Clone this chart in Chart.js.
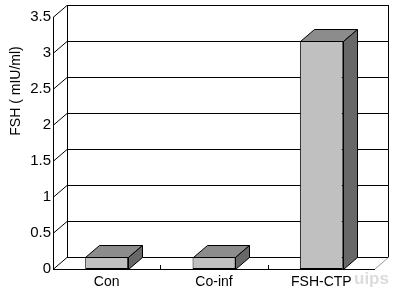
<!DOCTYPE html>
<html>
<head>
<meta charset="UTF-8">
<script src="https://cdn.jsdelivr.net/npm/chart.js"></script>
<style>
  html, body { margin: 0; padding: 0; background: #fff; }
  #wrap { width: 396px; height: 291px; }
</style>
</head>
<body>
<div id="wrap"><canvas id="myChart"></canvas></div>
<script>
const categories = ['Con', 'Co-inf', 'FSH-CTP'];
const fshValues = [0.17, 0.17, 3.17];
const yTicks = [0, 0.5, 1, 1.5, 2, 2.5, 3, 3.5];
const yTitle = 'FSH ( mIU/ml)';

// depth of the 3d box
const DX = 14, DY = -12;

const threeD = {
  id: 'threeD',
  beforeDatasetsDraw(chart) {
    const c = chart.ctx, a = chart.chartArea;
    const y = chart.scales.y;
    c.save();
    c.lineWidth = 1;
    c.strokeStyle = '#000';
    // back wall gridlines + connectors on the side wall
    yTicks.forEach(v => {
      const py = Math.round(y.getPixelForValue(v)) + 0.5;
      c.beginPath();
      c.moveTo(a.left + DX, py + DY);
      c.lineTo(a.right + DX, py + DY);
      c.stroke();
      c.beginPath();
      c.moveTo(a.left, py);
      c.lineTo(a.left + DX, py + DY);
      c.stroke();
    });
    // back wall edges
    c.beginPath();
    c.moveTo(a.left + DX + 0.5, a.top + DY);
    c.lineTo(a.left + DX + 0.5, a.bottom + DY);
    c.moveTo(a.right + DX - 0.5, a.top + DY);
    c.lineTo(a.right + DX - 0.5, a.bottom + DY);
    c.stroke();
    // floor right edge
    c.strokeStyle = '#999';
    c.beginPath();
    c.moveTo(a.right, a.bottom);
    c.lineTo(a.right + DX, a.bottom + DY);
    c.stroke();
    // front axis lines
    c.strokeStyle = '#000';
    c.beginPath();
    c.moveTo(a.left + 0.5, a.top);
    c.lineTo(a.left + 0.5, a.bottom);
    c.moveTo(a.left, a.bottom + 0.5);
    c.lineTo(a.right, a.bottom + 0.5);
    c.stroke();
    // category separators on the floor
    const xs = chart.scales.x;
    for (let i = 1; i < categories.length; i++) {
      const px = Math.round((xs.getPixelForValue(i - 1) + xs.getPixelForValue(i)) / 2) + 0.5;
      c.beginPath();
      c.moveTo(px, a.bottom);
      c.lineTo(px, a.bottom - 4);
      c.stroke();
    }
    // y axis title
    c.fillStyle = '#000';
    c.font = '14px "Liberation Sans", Arial, sans-serif';
    c.textAlign = 'center';
    c.textBaseline = 'middle';
    c.translate(16, 91);
    c.rotate(-Math.PI / 2);
    c.fillText(yTitle, 0, 0);
    c.restore();
  },
  afterDatasetsDraw(chart) {
    const c = chart.ctx;
    const meta = chart.getDatasetMeta(0);
    c.save();
    c.lineWidth = 1;
    c.strokeStyle = '#000';
    c.lineJoin = 'round';
    meta.data.forEach(bar => {
      const x1 = Math.round(bar.x - bar.width / 2) + 0.5;
      const x2 = Math.round(bar.x + bar.width / 2) + 0.5;
      const yt = Math.round(bar.y) + 0.5;
      const yb = Math.round(bar.base) + 0.5;
      // top face
      c.fillStyle = '#8c8c8c';
      c.beginPath();
      c.moveTo(x1, yt);
      c.lineTo(x1 + DX, yt + DY);
      c.lineTo(x2 + DX, yt + DY);
      c.lineTo(x2, yt);
      c.closePath();
      c.fill();
      c.stroke();
      // side face
      c.fillStyle = '#686868';
      c.beginPath();
      c.moveTo(x2, yt);
      c.lineTo(x2 + DX, yt + DY);
      c.lineTo(x2 + DX, yb + DY);
      c.lineTo(x2, yb);
      c.closePath();
      c.fill();
      c.stroke();
    });
    // faint watermark
    c.fillStyle = '#dcdcdc';
    c.font = 'bold 17px "Liberation Sans", Arial, sans-serif';
    c.textAlign = 'left';
    c.textBaseline = 'middle';
    c.fillText('uips', 354, 279);
    c.restore();
  }
};

new Chart(document.getElementById('myChart'), {
  type: 'bar',
  data: {
    labels: categories,
    datasets: [{
      data: fshValues,
      backgroundColor: '#c0c0c0',
      borderColor: '#000',
      borderWidth: 1,
      borderSkipped: false,
      barPercentage: 0.4,
      categoryPercentage: 1
    }]
  },
  options: {
    responsive: true,
    maintainAspectRatio: false,
    animation: false,
    layout: { padding: { top: 17, right: 21, left: 0, bottom: 0 } },
    plugins: { legend: { display: false }, tooltip: { enabled: false } },
    scales: {
      x: {
        grid: { display: false, drawTicks: false },
        border: { display: false },
        ticks: { color: '#000', padding: 5, font: { family: '"Liberation Sans", Arial, sans-serif', size: 14 } },
        afterFit(s) { s.height = 22; }
      },
      y: {
        min: 0, max: 3.5,
        grid: { display: false, drawTicks: false },
        border: { display: false },
        ticks: {
          stepSize: 0.5, color: '#000', padding: 2,
          font: { family: '"Liberation Sans", Arial, sans-serif', size: 15 },
          callback: v => String(v)
        },
        afterFit(s) { s.width = 53; }
      }
    }
  },
  plugins: [threeD]
});
</script>
</body>
</html>
